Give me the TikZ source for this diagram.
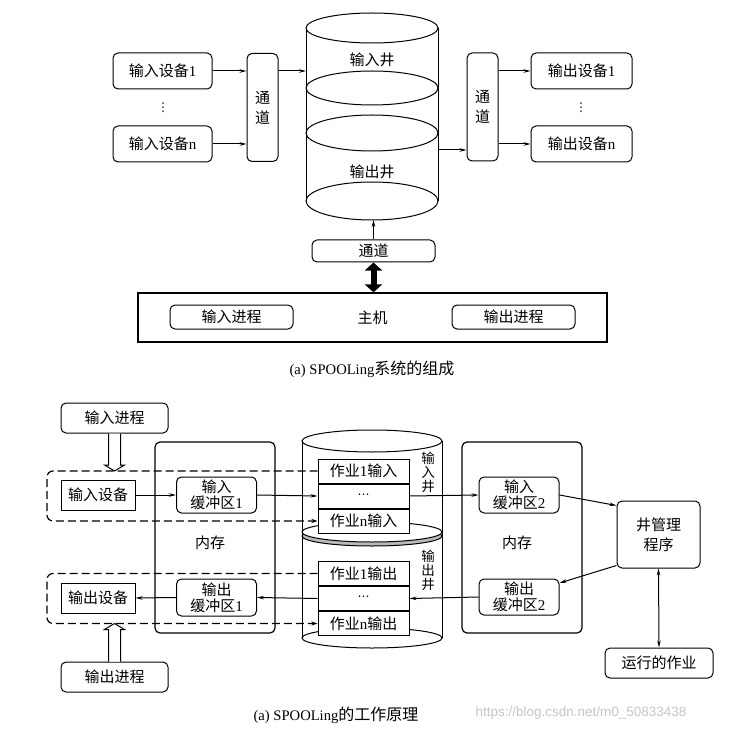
\documentclass[tikz,border=0pt]{standalone}
\usepackage{fontspec}
\setmainfont{Liberation Serif}
\newfontfamily\cjk{Noto Sans CJK SC}
\newfontfamily\wmfont{Liberation Sans}
\newfontfamily\symfont{DejaVu Sans}
\usetikzlibrary{positioning}
\usetikzlibrary{calc}
\usetikzlibrary{arrows.meta}

\newcommand{\lat}[1]{{\rmfamily #1}}

\tikzset{
    every node/.style={font=\cjk\fontsize{15}{17}\selectfont},
    box/.style={draw, rounded corners=5pt, fill=white, inner sep=0pt, align=center},
    sharpbox/.style={draw, fill=white, inner sep=0pt, align=center},
    jobrow/.style={sharpbox, minimum width=91pt, minimum height=24pt},
    membox/.style={box, line width=1.2pt, minimum width=120pt, minimum height=191pt},
    bufbox/.style={box, minimum width=80pt, minimum height=36pt, font=\cjk\fontsize{15}{16}\selectfont},
    tallbox/.style={box, minimum width=31pt, minimum height=108pt, font=\cjk\fontsize{15}{20}\selectfont},
    welltext/.style={align=center, inner sep=0pt, font=\cjk\fontsize{13.5}{14}\selectfont},
    dotsmark/.style={inner sep=0pt, font=\symfont\fontsize{12}{14}\selectfont},
    link/.style={->},
    dashlink/.style={dash pattern=on 8pt off 4pt, line width=1.2pt, rounded corners=6pt, -{Stealth[length=6pt,width=4pt]}},
}

\begin{document}
\begin{tikzpicture}[x=1pt, y=-1pt, line width=1pt, >={Stealth[length=7pt,width=3.5pt]}]
    \useasboundingbox (0,0) rectangle (749,735);

    % upper picture: devices, channels, wells
    \node [box, minimum width=99pt, minimum height=36pt] (in1) at (162.5,71) {输入设备\lat{1}};
    \node [box, minimum width=99pt, minimum height=36pt] (inn) at (162.5,144) {输入设备\lat{n}};
    \node [dotsmark] (indots) at (163,108) {⋮};
    \node [tallbox] (chin) at (262.5,107.5) {通\\道};

    \draw (306,28) -- (306,201) (438,28) -- (438,201);
    \draw (372,28) ellipse [x radius=66, y radius=15];
    \draw (372,88) ellipse [x radius=66, y radius=17];
    \draw (372,133) ellipse [x radius=66, y radius=18];
    \draw (372,201) ellipse [x radius=66, y radius=19];
    \node (wellin) at (372,60) {输入井};
    \node (wellout) at (372,172) {输出井};
    \coordinate (cylin) at (306,71);
    \coordinate (cylout) at (438,150);
    \coordinate (cylbot) at (372,220);

    \node [tallbox] (chout) at (482.5,107) {通\\道};
    \node [box, minimum width=101pt, minimum height=36pt] (out1) at (581.5,71) {输出设备\lat{1}};
    \node [box, minimum width=101pt, minimum height=36pt] (outn) at (581.5,144) {输出设备\lat{n}};
    \node [dotsmark] (outdots) at (581,108) {⋮};

    \draw [link] (in1.east) -- (in1.east -| chin.west);
    \draw [link] (inn.east) -- (inn.east -| chin.west);
    \draw [link] (chin.east |- cylin) -- (cylin);
    \draw [link] (cylout) -- (cylout -| chout.west);
    \draw [link] (chout.east |- out1) -- (out1.west);
    \draw [link] (chout.east |- outn) -- (outn.west);

    \node [box, minimum width=123pt, minimum height=22pt] (chbot) at (373.5,251) {通道};
    \draw [link] (chbot.north) -- (chbot.north |- cylbot);

    \node [sharpbox, line width=1.2pt, minimum width=469pt, minimum height=49pt] (host) at (372.5,317.5) {主机};
    \node [box, minimum width=123pt, minimum height=24pt] (procin1) at (231.5,317) {输入进程};
    \node [box, minimum width=123pt, minimum height=24pt] (procout1) at (513.5,317) {输出进程};
    \draw [line width=6pt, {Triangle[length=8pt,width=17pt]}-{Triangle[length=8pt,width=17pt]}]
          (chbot.south) -- (chbot.south |- host.north);

    \node [font=\rmfamily\fontsize{14.6}{17}\selectfont] (cap1) at (372,369) {(a) SPOOLing{\cjk\fontsize{16}{17}\selectfont 系统的组成}};

    % lower picture: how spooling works
    \node [membox] (meml) at (215,537.5) {};
    \node (memltext) at (210,543) {内存};
    \node [membox] (memr) at (522,537.5) {};
    \node (memrtext) at (517,543) {内存};

    \node [box, minimum width=107pt, minimum height=30pt] (procin) at (114.5,418) {输入进程};
    \node [box, minimum width=107pt, minimum height=30pt] (procout) at (114.5,677) {输出进程};
    \node [sharpbox, minimum width=74pt, minimum height=30pt] (devin) at (98,495) {输入设备};
    \node [sharpbox, minimum width=74pt, minimum height=30pt] (devout) at (98,598) {输出设备};
    \node [bufbox, minimum height=36pt] (bufinl) at (216.5,495) {输入\\缓冲区\lat{1}};
    \node [bufbox, minimum height=37pt] (bufoutl) at (216.5,597.5) {输出\\缓冲区\lat{1}};

    % the well on disk
    \draw (302,441) -- (302,638) (442,441) -- (442,638);
    \draw (372,441) ellipse [x radius=70, y radius=11];
    \draw [fill=gray!55] (372,536) ellipse [x radius=70, y radius=10];
    \draw [fill=white] (372,532) ellipse [x radius=70, y radius=10];
    \draw (372,638) ellipse [x radius=70, y radius=10];

    \node [jobrow] (jobin1) at (363.5,471) {作业\lat{1}输入};
    \node [jobrow, below=0pt of jobin1] (jobindots) {{\symfont\fontsize{12}{14}\selectfont ⋯}};
    \node [jobrow, below=0pt of jobindots] (jobinn) {作业\lat{n}输入};
    \node [jobrow] (jobout1) at (363.5,573.5) {作业\lat{1}输出};
    \node [jobrow, below=0pt of jobout1] (joboutdots) {{\symfont\fontsize{12}{14}\selectfont ⋯}};
    \node [jobrow, below=0pt of joboutdots] (joboutn) {作业\lat{n}输出};
    \node [welltext] (wellinv) at (428,472) {输\\入\\井};
    \node [welltext] (welloutv) at (428,570) {输\\出\\井};

    \node [bufbox] (bufinr) at (519,495) {输入\\缓冲区\lat{2}};
    \node [bufbox] (bufoutr) at (519,597) {输出\\缓冲区\lat{2}};
    \node [box, minimum width=83pt, minimum height=67pt, font=\cjk\fontsize{15}{20}\selectfont] (mgr) at (658.5,534.5) {井管理\\程序};
    \node [box, minimum width=108pt, minimum height=30pt] (run) at (659,663) {运行的作业};

    \draw [link] (devin.east) -- (bufinl.west);
    \draw [link] (bufinl.east) -- (jobindots.west);
    \draw [link] (jobindots.east) -- (bufinr.west);
    \draw [link] (bufinr.east) -- ([yshift=-5pt]mgr.north west);
    \draw [link] ([yshift=3pt]mgr.south west) -- ([yshift=14pt]bufoutr.east);
    \draw [link] (bufoutr.west) -- (joboutdots.east);
    \draw [link] (joboutdots.west) -- (bufoutl.east);
    \draw [link] (bufoutl.west) -- (devout.east);
    \draw [<->] (mgr.south) -- (run.north);

    \draw [dashlink] (jobin1.west) -| (47,495) |- (jobinn.west);
    \draw [dashlink] (jobout1.west) -| (47,597) |- (joboutn.west);

    \coordinate (dtop) at (procin.south |- jobin1.west);
    \coordinate (dbot) at (procout.north |- joboutn.west);
    \draw [fill=white] ($(procin.south)+(-6,0)$) -- ($(dtop)+(-6,-6)$) -- ($(dtop)+(-10,-6)$) -- (dtop)
          -- ($(dtop)+(10,-6)$) -- ($(dtop)+(6,-6)$) -- ($(procin.south)+(6,0)$);
    \draw [fill=white] ($(procout.north)+(-6,0)$) -- ($(dbot)+(-6,6)$) -- ($(dbot)+(-10,6)$) -- (dbot)
          -- ($(dbot)+(10,6)$) -- ($(dbot)+(6,6)$) -- ($(procout.north)+(6,0)$);

    \node [font=\rmfamily\fontsize{14.6}{17}\selectfont] (cap2) at (336,715) {(a) SPOOLing{\cjk\fontsize{16}{17}\selectfont 的工作原理}};
    \node [font=\wmfont\fontsize{13.5}{15}\selectfont, text=gray!45] (mark) at (581,713) {https://blog.csdn.net/m0\_50833438};
\end{tikzpicture}
\end{document}
